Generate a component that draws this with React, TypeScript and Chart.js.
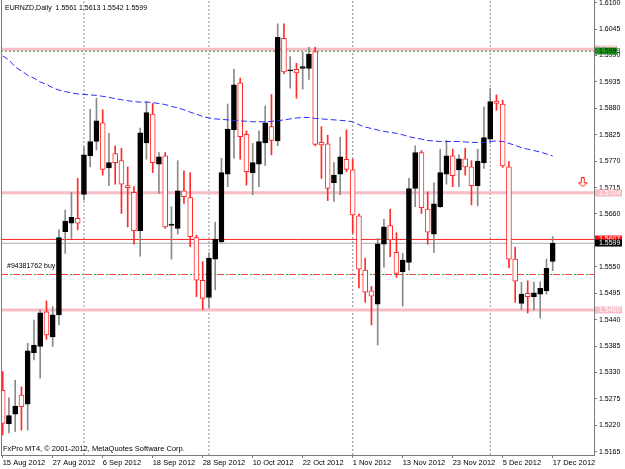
import React, { useEffect, useRef } from 'react';
import { Chart, registerables } from 'chart.js';

Chart.register(...registerables);

// ---- Data (EURNZD Daily, 15 Aug 2012 .. 17 Dec 2012, bar index 0..88) ----
const opens = [
  1.5293, 1.5223, 1.5243, 1.5283, 1.5264, 1.5371, 1.5384, 1.5456, 1.5404, 1.5450,
  1.5623, 1.5641, 1.5651, 1.5701, 1.5781, 1.5811, 1.5850, 1.5756, 1.5786, 1.5771,
  1.5719, 1.5705, 1.5625, 1.5808, 1.5868, 1.5764, 1.5781, 1.5636, 1.5630, 1.5708,
  1.5694, 1.5611, 1.5522, 1.5486, 1.5566, 1.5602, 1.5743, 1.5835, 1.5933, 1.5826,
  1.5746, 1.5764, 1.5808, 1.5842, 1.5812, 1.6026, 1.5958, 1.5961, 1.5963, 1.5963,
  1.5998, 1.5809, 1.5806, 1.5725, 1.5743, 1.5774, 1.5752, 1.5656, 1.5543, 1.5500,
  1.5472, 1.5597, 1.5636, 1.5580, 1.5540, 1.5559, 1.5713, 1.5788, 1.5670, 1.5618,
  1.5675, 1.5743, 1.5781, 1.5752, 1.5775, 1.5758, 1.5719, 1.5767, 1.5816, 1.5895,
  1.5889, 1.5758, 1.5566, 1.5474, 1.5495, 1.5488, 1.5493, 1.5500, 1.5561,
];
const highs = [
  1.5332, 1.5277, 1.5314, 1.5300, 1.5391, 1.5439, 1.5460, 1.5479, 1.5467, 1.5627,
  1.5668, 1.5705, 1.5734, 1.5800, 1.5878, 1.5901, 1.5877, 1.5828, 1.5802, 1.5797,
  1.5758, 1.5717, 1.5839, 1.5894, 1.5890, 1.5788, 1.5788, 1.5675, 1.5771, 1.5750,
  1.5746, 1.5616, 1.5561, 1.5579, 1.5643, 1.5776, 1.5889, 1.5962, 1.5943, 1.5833,
  1.5807, 1.5833, 1.5885, 1.5909, 1.6056, 1.6056, 1.5988, 1.5974, 1.5997, 1.6007,
  1.6007, 1.5842, 1.5824, 1.5767, 1.5820, 1.5835, 1.5774, 1.5660, 1.5568, 1.5509,
  1.5609, 1.5649, 1.5670, 1.5621, 1.5578, 1.5734, 1.5802, 1.5792, 1.5706, 1.5725,
  1.5795, 1.5813, 1.5795, 1.5783, 1.5797, 1.5771, 1.5795, 1.5883, 1.5922, 1.5908,
  1.5897, 1.5769, 1.5591, 1.5518, 1.5521, 1.5518, 1.5519, 1.5566, 1.5613,
];
const lows = [
  1.5200, 1.5204, 1.5207, 1.5210, 1.5210, 1.5356, 1.5318, 1.5399, 1.5384, 1.5429,
  1.5578, 1.5609, 1.5627, 1.5689, 1.5758, 1.5793, 1.5741, 1.5719, 1.5722, 1.5661,
  1.5633, 1.5597, 1.5572, 1.5774, 1.5746, 1.5703, 1.5630, 1.5566, 1.5618, 1.5682,
  1.5592, 1.5488, 1.5461, 1.5464, 1.5502, 1.5600, 1.5717, 1.5776, 1.5774, 1.5720,
  1.5700, 1.5717, 1.5761, 1.5783, 1.5802, 1.5952, 1.5922, 1.5901, 1.5920, 1.5940,
  1.5802, 1.5734, 1.5688, 1.5686, 1.5700, 1.5748, 1.5620, 1.5506, 1.5476, 1.5429,
  1.5387, 1.5549, 1.5571, 1.5528, 1.5468, 1.5543, 1.5675, 1.5661, 1.5597, 1.5580,
  1.5673, 1.5722, 1.5717, 1.5717, 1.5741, 1.5679, 1.5677, 1.5755, 1.5807, 1.5876,
  1.5757, 1.5548, 1.5476, 1.5461, 1.5454, 1.5460, 1.5443, 1.5493, 1.5542,
];
const closes = [
  1.5224, 1.5240, 1.5260, 1.5259, 1.5375, 1.5387, 1.5454, 1.5408, 1.5450, 1.5611,
  1.5645, 1.5653, 1.5641, 1.5783, 1.5811, 1.5854, 1.5753, 1.5767, 1.5767, 1.5722,
  1.5715, 1.5625, 1.5829, 1.5871, 1.5767, 1.5779, 1.5633, 1.5639, 1.5708, 1.5696,
  1.5613, 1.5522, 1.5484, 1.5568, 1.5608, 1.5746, 1.5837, 1.5929, 1.5821, 1.5748,
  1.5767, 1.5811, 1.5850, 1.5813, 1.6028, 1.5956, 1.5960, 1.5954, 1.5967, 1.5993,
  1.5805, 1.5804, 1.5713, 1.5741, 1.5779, 1.5753, 1.5658, 1.5545, 1.5497, 1.5489,
  1.5598, 1.5633, 1.5606, 1.5536, 1.5564, 1.5713, 1.5788, 1.5673, 1.5622, 1.5681,
  1.5746, 1.5781, 1.5740, 1.5775, 1.5758, 1.5719, 1.5770, 1.5819, 1.5894, 1.5890,
  1.5760, 1.5566, 1.5520, 1.5493, 1.5488, 1.5496, 1.5505, 1.5547, 1.5599,
];
const maValues = [
  1.5989, 1.5981, 1.5966, 1.5958, 1.5949, 1.5943, 1.5935, 1.5930, 1.5923, 1.5918,
  1.5915, 1.5912, 1.5910, 1.5909, 1.5908, 1.5907, 1.5905, 1.5903, 1.5900, 1.5898,
  1.5896, 1.5894, 1.5893, 1.5893, 1.5892, 1.5890, 1.5888, 1.5884, 1.5881, 1.5877,
  1.5872, 1.5868, 1.5863, 1.5860, 1.5858, 1.5857, 1.5856, 1.5855, 1.5854, 1.5853,
  1.5852, 1.5852, 1.5852, 1.5853, 1.5854, 1.5856, 1.5858, 1.5860, 1.5861, 1.5861,
  1.5859, 1.5858, 1.5857, 1.5856, 1.5855, 1.5854, 1.5852, 1.5846, 1.5841, 1.5838,
  1.5835, 1.5832, 1.5830, 1.5828, 1.5825, 1.5821, 1.5818, 1.5816, 1.5813, 1.5812,
  1.5811, 1.5811, 1.5811, 1.5811, 1.5810, 1.5809, 1.5809, 1.5809, 1.5811, 1.5812,
  1.5811, 1.5807, 1.5803, 1.5798, 1.5795, 1.5792, 1.5789, 1.5785, 1.5781,
];

const xTickBars = [0, 8, 16, 24, 32, 40, 48, 56, 64, 72, 80, 88];
const xTickLabels = [
  '15 Aug 2012', '27 Aug 2012', '6 Sep 2012', '18 Sep 2012', '28 Sep 2012', '10 Oct 2012',
  '22 Oct 2012', '1 Nov 2012', '13 Nov 2012', '23 Nov 2012', '5 Dec 2012', '17 Dec 2012',
];
const yTickValues = [
  1.61, 1.6045, 1.599, 1.5935, 1.588, 1.5825, 1.577, 1.5715, 1.566, 1.5605,
  1.555, 1.5495, 1.544, 1.5385, 1.533, 1.5275, 1.522, 1.5165,
];
const monthSeparatorBars = [13, 33, 56, 78];
const pinkLevels = [1.6003, 1.5704, 1.546];
const takeProfitLevel = 1.5999;
const askLevel = 1.5607;
const bidLevel = 1.5599;
const orderLevel = 1.5534;
const orderLabel = '#94381762 buy';
const titleText = 'EURNZD,Daily  1.5561 1.5613 1.5542 1.5599';
const copyrightText = 'FxPro MT4, \u00A9 2001-2012, MetaQuotes Software Corp.';
const sellArrow = { x: 92.8, y: 1.5726 };

const X_MIN = -0.272;
const X_MAX = 94.608;
const Y_MIN = 1.51581;
const Y_MAX = 1.610562;

const FONT = "'Liberation Sans', Arial, sans-serif";

const zeroPadding = (scale: any) => {
  scale.paddingTop = 0;
  scale.paddingBottom = 0;
  scale.paddingLeft = 0;
  scale.paddingRight = 0;
};

export default function App() {
  const ref = useRef<HTMLCanvasElement | null>(null);

  useEffect(() => {
    if (!ref.current) return;
    const n = opens.length;
    const idx = Array.from({ length: n }, (_, i) => i);
    const isUp = (i: number) => closes[i] >= opens[i];

    const wickData = idx.map((i) => ({ x: i, y: [lows[i], highs[i]] }));
    const bodyData = idx.map((i) => ({
      x: i,
      y: [Math.min(opens[i], closes[i]), Math.max(opens[i], closes[i])],
    }));
    const maData = idx.map((i) => ({ x: i, y: maValues[i] }));

    const hLine = (v: number) => [
      { x: X_MIN, y: v },
      { x: X_MAX, y: v },
    ];

    const arrow = document.createElement('canvas');
    arrow.width = 10;
    arrow.height = 10;
    const a = arrow.getContext('2d')!;
    a.strokeStyle = '#ff2020';
    a.fillStyle = '#ffffff';
    a.lineWidth = 1;
    a.beginPath();
    a.moveTo(3.5, 0.5);
    a.lineTo(6.5, 0.5);
    a.lineTo(6.5, 5.5);
    a.lineTo(9.5, 5.5);
    a.lineTo(5, 9.5);
    a.lineTo(0.5, 5.5);
    a.lineTo(3.5, 5.5);
    a.closePath();
    a.fill();
    a.stroke();

    const lineBase = {
      type: 'line' as const,
      pointRadius: 0,
      borderWidth: 1,
      tension: 0,
      fill: false,
    };

    const datasets: any[] = [];
    monthSeparatorBars.forEach((b) => {
      datasets.push({
        ...lineBase,
        data: [
          { x: b, y: Y_MIN },
          { x: b, y: Y_MAX },
        ],
        borderColor: '#8c8c8c',
        borderDash: [2, 2],
        order: 20,
      });
    });
    pinkLevels.forEach((v) => {
      datasets.push({ ...lineBase, data: hLine(v), borderColor: '#f7bcc6', borderWidth: 3, order: 19 });
    });
    datasets.push({ ...lineBase, data: hLine(takeProfitLevel), borderColor: '#2f912f', borderDash: [2, 2], order: 18 });
    datasets.push({ ...lineBase, data: hLine(orderLevel), borderColor: '#ff3b3b', borderDash: [7, 5], order: 17 });
    datasets.push({ ...lineBase, data: hLine(orderLevel), borderColor: '#3a9a3a', borderDash: [2, 10], borderDashOffset: 3, order: 17 });
    datasets.push({ ...lineBase, data: hLine(askLevel), borderColor: '#ff2020', order: 16 });
    datasets.push({ ...lineBase, data: hLine(bidLevel), borderColor: '#a3aab5', order: 16 });
    datasets.push({
      type: 'bar',
      data: wickData,
      backgroundColor: idx.map((i) => (isUp(i) ? '#8a8a8a' : '#ff2a2a')),
      borderWidth: 0,
      barThickness: 1,
      minBarLength: 1,
      grouped: false,
      order: 4,
    });
    datasets.push({
      type: 'bar',
      data: bodyData,
      backgroundColor: idx.map((i) => (isUp(i) ? '#000000' : '#ffffff')),
      borderColor: idx.map((i) => (isUp(i) ? '#000000' : '#ff2a2a')),
      borderWidth: 1,
      borderSkipped: false,
      barThickness: 5,
      minBarLength: 1,
      grouped: false,
      order: 3,
    });
    datasets.push({ ...lineBase, data: maData, borderColor: '#2a2aff', borderDash: [6, 3], order: 2 });
    datasets.push({
      type: 'line',
      data: [sellArrow],
      showLine: false,
      pointStyle: arrow,
      pointRadius: 5,
      order: 1,
    });

    const overlay = {
      id: 'mt4Overlay',
      afterDraw(chart: any) {
        const ctx = chart.ctx as CanvasRenderingContext2D;
        const area = chart.chartArea;
        const ys = chart.scales.y;
        ctx.save();
        ctx.strokeStyle = '#7a7a7a';
        ctx.lineWidth = 1;
        ctx.beginPath();
        ctx.moveTo(area.left + 0.5, area.top);
        ctx.lineTo(area.left + 0.5, area.bottom);
        ctx.stroke();

        ctx.fillStyle = '#000';
        ctx.textBaseline = 'middle';
        ctx.textAlign = 'left';
        ctx.font = `7px ${FONT}`;
        ctx.fillText(titleText, 5, 8);
        ctx.font = `7.5px ${FONT}`;
        ctx.fillText(copyrightText, 3, 449);
        ctx.font = `7px ${FONT}`;
        ctx.fillText(orderLabel, 7, ys.getPixelForValue(orderLevel) - 8);

        const box = (v: number, bg: string, fg: string, text: string, w = 27) => {
          const y = Math.round(ys.getPixelForValue(v));
          ctx.fillStyle = bg;
          ctx.fillRect(area.right + 1, y - 3.5, w, 7);
          ctx.fillStyle = fg;
          ctx.font = `7px ${FONT}`;
          ctx.fillText(text, area.right + 5, y);
        };
        box(pinkLevels[0], '#f7bcc6', '#ffffff', pinkLevels[0].toFixed(4), 22);
        box(takeProfitLevel, '#1f8f1f', '#0a2a0a', takeProfitLevel.toFixed(4), 22);
        box(pinkLevels[1], '#f7bcc6', '#ffffff', pinkLevels[1].toFixed(4));
        box(pinkLevels[2], '#f7bcc6', '#ffffff', pinkLevels[2].toFixed(4));
        box(askLevel, '#ff1010', '#ffffff', askLevel.toFixed(4));
        box(bidLevel, '#000000', '#ffffff', bidLevel.toFixed(4));
        ctx.restore();
      },
    };

    const chart = new Chart(ref.current, {
      type: 'bar',
      data: { datasets },
      options: {
        animation: false,
        responsive: false,
        devicePixelRatio: 1,
        layout: { autoPadding: false, padding: { left: 1, top: 0, right: 0, bottom: 0 } },
        plugins: { legend: { display: false }, tooltip: { enabled: false } },
        scales: {
          x: {
            type: 'linear',
            min: X_MIN,
            max: X_MAX,
            offset: false,
            grid: { display: true, drawOnChartArea: false, drawTicks: true, tickLength: 3, color: '#7a7a7a', offset: false },
            border: { display: true, color: '#7a7a7a' },
            afterBuildTicks: (scale: any) => {
              scale.ticks = xTickBars.map((v) => ({ value: v }));
            },
            afterFit: (scale: any) => {
              scale.height = 14;
              zeroPadding(scale);
            },
            ticks: {
              autoSkip: false,
              maxRotation: 0,
              align: 'start',
              padding: 0,
              color: '#000',
              font: { family: FONT, size: 7.5 },
              callback: (value: any) => {
                const k = xTickBars.indexOf(Number(value));
                return k >= 0 ? xTickLabels[k] : '';
              },
            },
          },
          y: {
            type: 'linear',
            position: 'right',
            min: Y_MIN,
            max: Y_MAX,
            beginAtZero: false,
            grid: { display: true, drawOnChartArea: false, drawTicks: true, tickLength: 3, color: '#7a7a7a' },
            border: { display: true, color: '#7a7a7a' },
            afterBuildTicks: (scale: any) => {
              scale.ticks = yTickValues.map((v) => ({ value: v }));
            },
            afterFit: (scale: any) => {
              scale.width = 31;
              zeroPadding(scale);
            },
            ticks: {
              padding: 2,
              color: '#000',
              font: { family: FONT, size: 7 },
              callback: (value: any) => Number(value).toFixed(4),
            },
          },
        },
      } as any,
      plugins: [overlay],
    });

    return () => chart.destroy();
  }, []);

  return (
    <div style={{ position: 'fixed', left: 0, top: 0, width: 625, height: 469, background: '#fff' }}>
      <canvas ref={ref} width={625} height={469} style={{ display: 'block', width: 625, height: 469 }} />
    </div>
  );
}
